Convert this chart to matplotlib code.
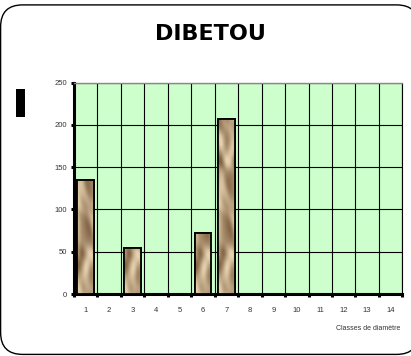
import numpy as np
import matplotlib
matplotlib.use("Agg")
import matplotlib.pyplot as plt
from matplotlib.patches import FancyBboxPatch, Rectangle

plt.rcParams['font.family'] = ['Liberation Sans', 'DejaVu Sans']

# effectifs par classe de diamètre
classes = np.arange(1, 15)
effectifs = [135, 0, 55, 0, 0, 72, 207, 0, 0, 0, 0, 0, 0, 0]
yticks = [0, 50, 100, 150, 200, 250]

fig = plt.figure(figsize=(4.11, 3.56), dpi=100)
ax = fig.add_axes([0.180, 0.174, 0.799, 0.594])

# rounded frame around the whole chart (right side just past the edge)
frame = FancyBboxPatch((0.006, 0.016), 4.18, 3.495, boxstyle="round,pad=0,rounding_size=0.22",
                       transform=fig.dpi_scale_trans, facecolor="white", edgecolor="black",
                       linewidth=1.0, zorder=-10)
fig.patches.append(frame)
fig.patches.append(Rectangle((16 / 411, 1 - 117 / 356), 9 / 411, 28 / 356,
                             transform=fig.transFigure, facecolor="black", edgecolor="none"))

fig.text(0.513, 0.905, "DIBETOU", ha="center", va="center", fontsize=16, fontweight="bold",
         family="DejaVu Sans")

ax.set_facecolor("#ccffcc")
ax.set_xlim(0.5, 14.5)
ax.set_ylim(0, 250)
ax.set_axisbelow(True)

# mottled wood/stone texture for the bars
yy, xx = np.mgrid[0:240, 0:40].astype(float)
w1 = np.sin(yy / 13.0 + 1.8 * np.sin(xx / 9.0 + yy / 31.0))
w2 = np.sin(xx / 6.0 - yy / 17.0 + 2.0 * np.cos(yy / 21.0))
w3 = np.sin((xx + yy) / 5.5 + np.sin(yy / 8.0))
t = 0.62 + 0.22 * w1 + 0.14 * w2 + 0.07 * w3
t = np.clip(t, 0, 1)
light = np.array([0.90, 0.82, 0.68])
dark = np.array([0.40, 0.27, 0.15])
tex = dark + (light - dark) * t[..., None]

width = 0.72
bars = ax.bar(classes, effectifs, width=width, color="#c9a97c", edgecolor="black",
              linewidth=1.3, zorder=3)
for b in bars:
    h = b.get_height()
    if h <= 0:
        continue
    x0 = b.get_x()
    im = ax.imshow(tex[: int(h) + 1], extent=(x0, x0 + width, 0, h), aspect="auto",
                   origin="lower", zorder=3.5, interpolation="bilinear")
    im.set_clip_path(b)
ax.bar(classes, effectifs, width=width, facecolor="none", edgecolor="black",
       linewidth=1.3, zorder=4)

ax.set_yticks(yticks)
ax.set_yticklabels([str(v) for v in yticks])
ax.set_xticks(classes)
ax.set_xticklabels([str(c) for c in classes])
ax.set_xticks(np.arange(0.5, 15.0, 1.0), minor=True)

ax.grid(True, which="minor", axis="x", color="black", linewidth=0.8)
ax.grid(True, which="major", axis="y", color="black", linewidth=0.8)

ax.tick_params(axis="x", which="major", length=0, labelsize=5.5, pad=9, labelcolor="#333333")
ax.tick_params(axis="x", which="minor", length=2, width=2.2, direction="out")
ax.tick_params(axis="y", which="major", length=2, width=2.2, labelsize=5.5, pad=3,
               labelcolor="#333333")

for side in ("left", "bottom"):
    ax.spines[side].set_linewidth(2.2)
ax.spines["top"].set_color("#888888")
ax.spines["top"].set_linewidth(1.0)
ax.spines["right"].set_linewidth(0.8)

fig.text(400 / 411, 1 - 329 / 356, "Classes de diamètre", ha="right", va="center", fontsize=5,
         color="#333333")

fig.savefig("out.png", dpi=100)
